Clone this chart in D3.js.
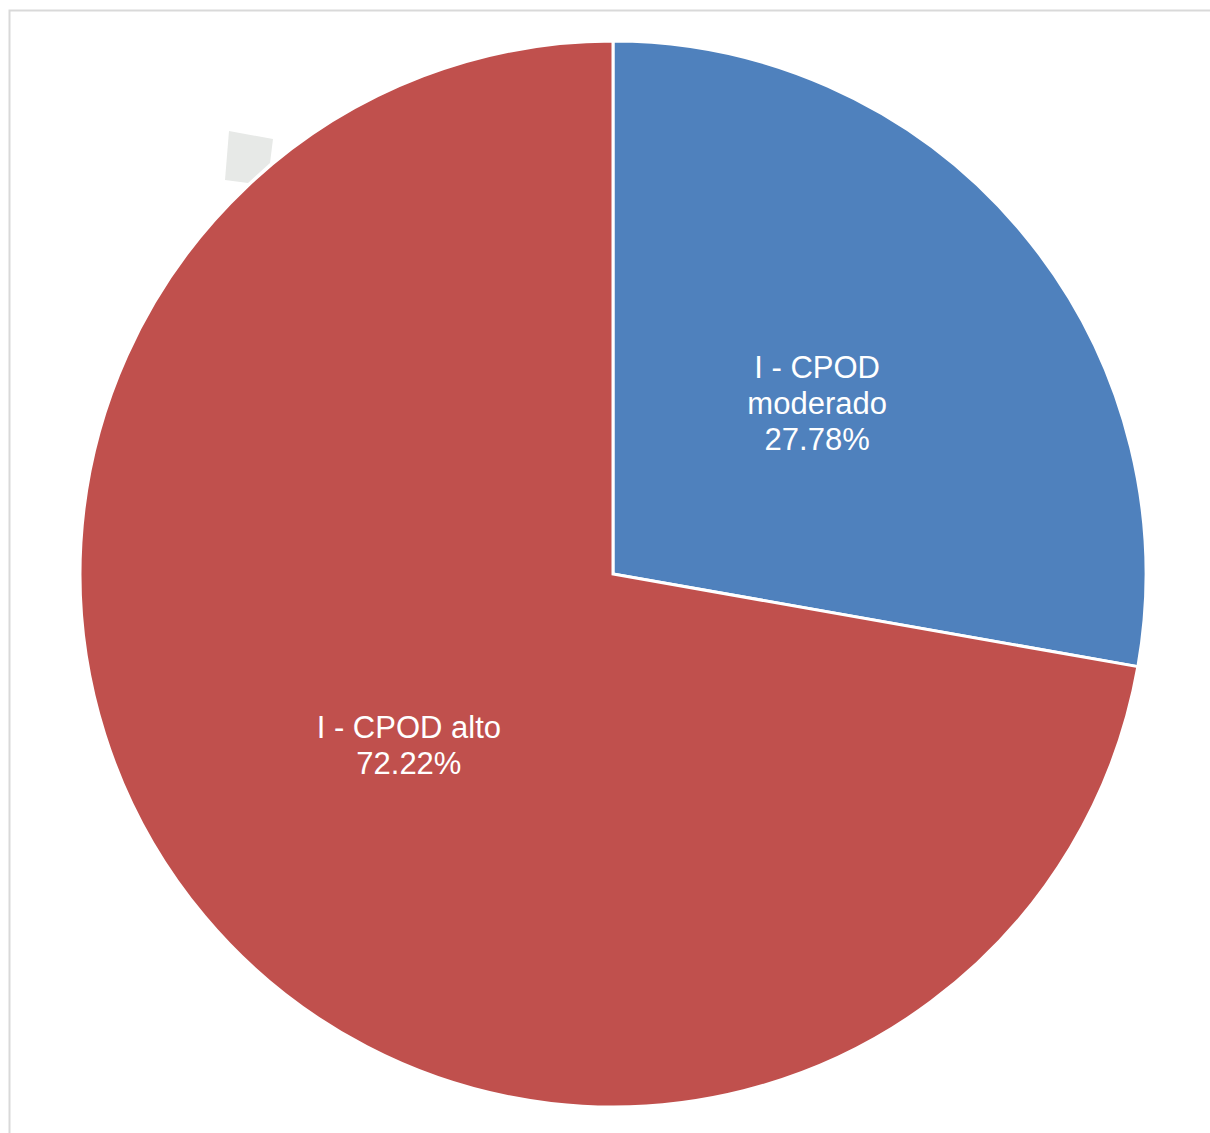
<!DOCTYPE html>
<html>
<head>
<script src="https://d3js.org/d3.v7.min.js"></script>
<style>
  body { margin: 0; background: #fff; font-family: "Liberation Sans", Arial, sans-serif; }
  svg { display: block; }
</style>
</head>
<body>
<svg width="1210" height="1133"></svg>
<script>
// data
const labels = [["I - CPOD", "moderado"], ["I - CPOD alto"]];
const values = [27.78, 72.22];
const colors = ["#4F81BD", "#C0504D"];

const svg = d3.select("svg");
const cx = 613, cy = 574, radius = 533;

// chart frame
svg.append("path")
  .attr("d", "M9.5,1133 V10.5 H1210")
  .attr("fill", "none")
  .attr("stroke", "#d9d9d9")
  .attr("stroke-width", 2);

// faint leftover shape from the source picture
svg.append("polygon")
  .attr("points", "229,131 273,139 270,163 248,183 225,180")
  .attr("fill", "#e7e9e7");

const pie = d3.pie().sort(null).value(d => d);
const arc = d3.arc().innerRadius(0).outerRadius(radius);

const g = svg.append("g").attr("transform", `translate(${cx},${cy})`);

const slices = g.selectAll("g.slice")
  .data(pie(values))
  .enter().append("g").attr("class", "slice");

slices.append("path")
  .attr("d", arc)
  .attr("fill", (d, i) => colors[i])
  .attr("stroke", "#fff")
  .attr("stroke-width", 3)
  .attr("stroke-linejoin", "miter");

const lineH = 36;
slices.each(function(d, i) {
  const [x, y] = arc.centroid(d);
  const lines = labels[i].concat([values[i].toFixed(2) + "%"]);
  const t = d3.select(this).append("text")
    .attr("text-anchor", "middle")
    .attr("fill", "#fff")
    .style("font-size", "31px");
  lines.forEach((s, k) => {
    t.append("tspan")
      .attr("x", x)
      .attr("y", y + (k - (lines.length - 1) / 2) * lineH)
      .attr("dy", "0.36em")
      .text(s);
  });
});
</script>
</body>
</html>
